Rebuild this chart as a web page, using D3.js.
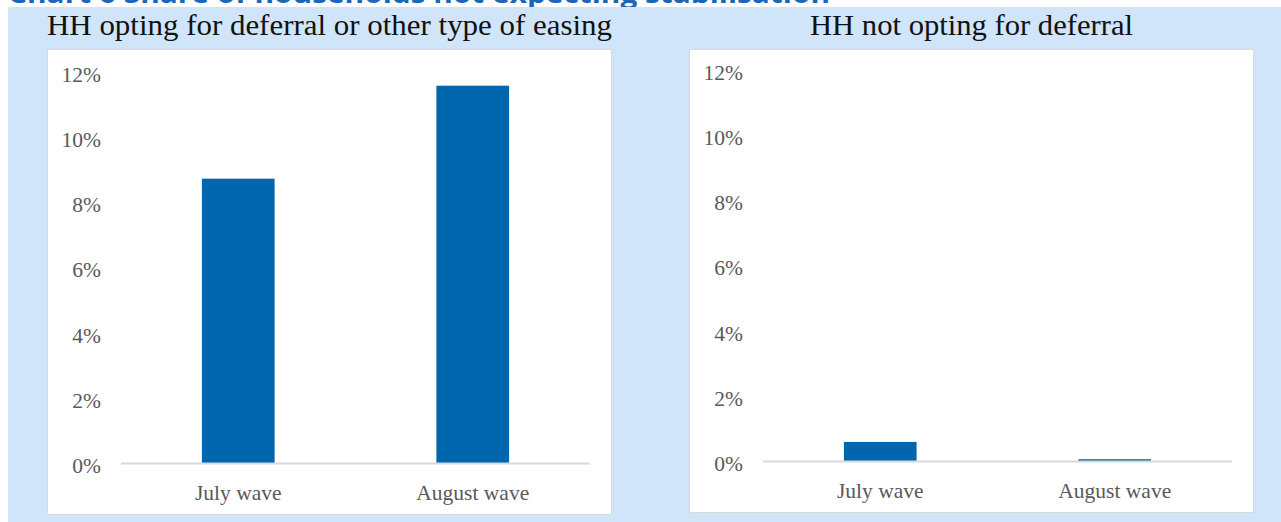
<!DOCTYPE html>
<html>
<head>
<meta charset="utf-8">
<script src="https://cdn.jsdelivr.net/npm/d3@7"></script>
<style>
  html, body { margin: 0; padding: 0; background: #ffffff; }
  svg { display: block; }
</style>
</head>
<body>
<svg id="chart" width="1281" height="522"></svg>
<script>
// Chart data
const chartTitle = "Chart 6 Share of households not expecting stabilisation";
const panelTitles = ["HH opting for deferral or other type of easing", "HH not opting for deferral"];
const categories = ["July wave", "August wave"];
const deferralValues = [8.73, 11.58];      // % of households, panel 1
const noDeferralValues = [0.60, 0.07];     // % of households, panel 2
const tickValues = [0, 2, 4, 6, 8, 10, 12];
const tickLabels = ["0%", "2%", "4%", "6%", "8%", "10%", "12%"];

const svg = d3.select("#chart");
const W = 1281, H = 522;

const blueBg = "#D0E4FA";
const barColor = "#0066AD";
const gridGray = "#D9D9D9";
const labelGray = "#595959";
const serif = "'Liberation Serif', 'Times New Roman', serif";

// Top chart heading (partly hidden under the panel background)
svg.append("text")
  .attr("x", 8)
  .attr("y", 3)
  .attr("font-family", "'Open Sans', 'Liberation Sans', sans-serif")
  .attr("font-weight", "bold")
  .attr("font-size", 27)
  .attr("fill", "#1A66B8")
  .attr("textLength", 822)
  .attr("lengthAdjust", "spacingAndGlyphs")
  .text(chartTitle);

// Light blue panel background
svg.append("rect")
  .attr("x", 8).attr("y", 7)
  .attr("width", W - 8).attr("height", H - 7)
  .attr("fill", blueBg);

const panels = [
  { title: panelTitles[0], values: deferralValues, box: { x: 47, y: 49, w: 565, h: 466 }, titleWidth: 565 },
  { title: panelTitles[1], values: noDeferralValues, box: { x: 689, y: 49, w: 565, h: 464 }, titleWidth: 323 }
];

panels.forEach(p => {
  const g = svg.append("g");
  const b = p.box;

  // white chart area
  g.append("rect")
    .attr("x", b.x + 0.5).attr("y", b.y + 0.5)
    .attr("width", b.w - 1).attr("height", b.h - 1)
    .attr("fill", "#ffffff")
    .attr("stroke", gridGray)
    .attr("stroke-width", 1);

  // panel title
  g.append("text")
    .attr("x", b.x + b.w / 2)
    .attr("y", 35)
    .attr("text-anchor", "middle")
    .attr("font-family", serif)
    .attr("font-size", 29)
    .attr("fill", "#111111")
    .attr("textLength", p.titleWidth)
    .attr("lengthAdjust", "spacingAndGlyphs")
    .text(p.title);

  const x0 = b.x + 74, x1 = b.x + b.w - 22;
  const yBase = b.y + b.h - 51.5;
  const yTop = yBase - 391.5;

  const x = d3.scaleBand()
    .domain(categories)
    .range([x0, x1])
    .paddingInner(0.69)
    .paddingOuter(0.345);

  const y = d3.scaleLinear()
    .domain([0, 12])
    .range([yBase, yTop]);

  // value axis labels (no axis line)
  const yAxis = d3.axisLeft(y)
    .tickValues(tickValues)
    .tickFormat((d, i) => tickLabels[i])
    .tickSize(0)
    .tickPadding(0);
  const ya = g.append("g")
    .attr("transform", `translate(${b.x + 54},0)`)
    .call(yAxis);
  ya.select(".domain").remove();
  ya.selectAll("text")
    .attr("font-family", serif)
    .attr("font-size", 21.5)
    .attr("fill", labelGray)
    .attr("dy", "0.42em");

  // bars
  g.selectAll("rect.bar")
    .data(p.values)
    .join("rect")
    .attr("class", "bar")
    .attr("x", (d, i) => x(categories[i]))
    .attr("width", x.bandwidth())
    .attr("y", d => y(d))
    .attr("height", d => y(0) - y(d))
    .attr("fill", barColor);

  // category axis
  const xAxis = d3.axisBottom(x).tickSize(0).tickPadding(0);
  const xa = g.append("g")
    .attr("transform", `translate(0,${yBase})`)
    .call(xAxis);
  xa.select(".domain")
    .attr("stroke", gridGray)
    .attr("stroke-width", 2)
    .attr("d", `M${x0},0H${x1}`);
  xa.selectAll("text")
    .attr("font-family", serif)
    .attr("font-size", 21.5)
    .attr("fill", labelGray)
    .attr("y", 36)
    .attr("dy", 0);
});
</script>
</body>
</html>
